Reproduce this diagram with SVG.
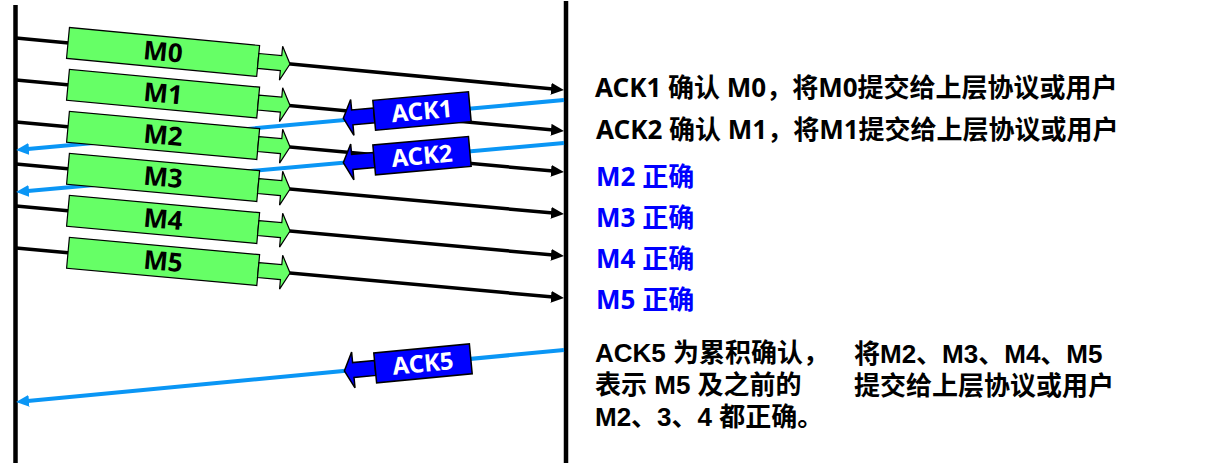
<svg xmlns="http://www.w3.org/2000/svg" xmlns:xlink="http://www.w3.org/1999/xlink" width="1228" height="463" viewBox="0 0 1228 463">
<style>
.t{font-family:"Noto Sans","Noto Sans CJK SC",sans-serif;font-weight:bold;font-size:26px;fill:#000}
.tb{font-family:"Liberation Sans","Noto Sans CJK SC",sans-serif;font-weight:bold;font-size:26px;fill:#000}
.blue{fill:#0000FF}
.ml{stroke:#000;stroke-width:3.5;fill:none}
.al{stroke:#0A96F5;stroke-width:4;fill:none}
.tl{stroke:#000;stroke-width:4.5}
.mbox{fill:#66FF66;stroke:#000;stroke-width:1.2}
.abox{fill:#0000FF;stroke:#000;stroke-width:1.5}
.mt{font-family:"Noto Sans","Noto Sans CJK SC",sans-serif;font-weight:bold;font-size:26px;fill:#000;text-anchor:middle}
.at{font-family:"Noto Sans","Noto Sans CJK SC",sans-serif;font-weight:bold;font-size:24px;fill:#fff;text-anchor:middle}
</style>
<defs>
<marker id="blk" markerUnits="userSpaceOnUse" markerWidth="14" markerHeight="12" refX="5" refY="6" orient="auto">
<path d="M0,0 L13,6 L0,12 z" fill="#000"/>
</marker>
<marker id="blu" markerUnits="userSpaceOnUse" markerWidth="14" markerHeight="12" refX="4" refY="6" orient="auto">
<path d="M0,0 L13,6 L0,12 z" fill="#0A96F5"/>
</marker>
<g id="msgShape">
<rect class="mbox" x="0" y="-15.5" width="191" height="31"/>
<polygon class="mbox" points="191,-7.5 214,-7.5 214,-17 223,0 214,17 214,7.5 191,7.5"/>
</g>
<g id="ackShape">
<polygon class="abox" stroke-width="1" points="-48,-7.5 -70,-7.5 -70,-18 -79,0 -70,18 -70,7.5 -48,7.5"/>
<rect class="abox" x="-48" y="-15" width="96" height="30"/>
</g>
</defs>
<g id="timelines">
<line class="tl" x1="15.5" y1="5" x2="15.5" y2="463"/>
<line class="tl" x1="566" y1="1" x2="566" y2="463"/>
</g>
<g id="connectors">
<line class="ml" x1="16" y1="38" x2="556" y2="89.24" marker-end="url(#blk)"/>
<line class="ml" x1="16" y1="80" x2="556" y2="130.26" marker-end="url(#blk)"/>
<line class="ml" x1="16" y1="122" x2="556" y2="171.27" marker-end="url(#blk)"/>
<line class="ml" x1="16" y1="164" x2="556" y2="213.27" marker-end="url(#blk)"/>
<line class="ml" x1="16" y1="206" x2="556" y2="255.27" marker-end="url(#blk)"/>
<line class="ml" x1="16" y1="248" x2="556" y2="297.27" marker-end="url(#blk)"/>
<line class="al" x1="564" y1="100" x2="25" y2="149.27" marker-end="url(#blu)"/>
<line class="al" x1="564" y1="143" x2="25" y2="191.28" marker-end="url(#blu)"/>
<line class="al" x1="564" y1="350" x2="25" y2="401.24" marker-end="url(#blu)"/>
</g>
<g id="m0" transform="translate(68,42.93) rotate(5.42)"><use xlink:href="#msgShape"/><text class="mt" x="95.5" y="9">M0</text></g>
<g id="m1" transform="translate(68,84.84) rotate(5.32)"><use xlink:href="#msgShape"/><text class="mt" x="95.5" y="9">M1</text></g>
<g id="m2" transform="translate(68,126.74) rotate(5.21)"><use xlink:href="#msgShape"/><text class="mt" x="95.5" y="9">M2</text></g>
<g id="m3" transform="translate(68,168.74) rotate(5.21)"><use xlink:href="#msgShape"/><text class="mt" x="95.5" y="9">M3</text></g>
<g id="m4" transform="translate(68,210.74) rotate(5.21)"><use xlink:href="#msgShape"/><text class="mt" x="95.5" y="9">M4</text></g>
<g id="m5" transform="translate(68,252.74) rotate(5.21)"><use xlink:href="#msgShape"/><text class="mt" x="95.5" y="9">M5</text></g>
<g id="ack1" transform="translate(422,111) rotate(-5.22)"><use xlink:href="#ackShape"/><text class="at" x="0" y="8.5">ACK1</text></g>
<g id="ack2" transform="translate(422,155.7) rotate(-5.12)"><use xlink:href="#ackShape"/><text class="at" x="0" y="8.5">ACK2</text></g>
<g id="ack5" transform="translate(423,363.4) rotate(-5.43)"><use xlink:href="#ackShape"/><text class="at" x="0" y="8.5">ACK5</text></g>
<g id="notes">
<text class="t" x="595" y="97">ACK1 确认 M0，将M0提交给上层协议或用户</text>
<text class="t" x="596" y="139">ACK2 确认 M1，将M1提交给上层协议或用户</text>
<text class="t blue" x="596" y="186">M2 正确</text>
<text class="t blue" x="596" y="227">M3 正确</text>
<text class="t blue" x="596" y="268">M4 正确</text>
<text class="t blue" x="596" y="309">M5 正确</text>
<text class="tb" x="595" y="362">ACK5 为累积确认，</text>
<text class="tb" x="595" y="394">表示 M5 及之前的</text>
<text class="tb" x="595" y="426">M2、3、4 都正确。</text>
<text class="tb" x="854" y="363">将M2、M3、M4、M5</text>
<text class="tb" x="854" y="395">提交给上层协议或用户</text>
</g>
</svg>
